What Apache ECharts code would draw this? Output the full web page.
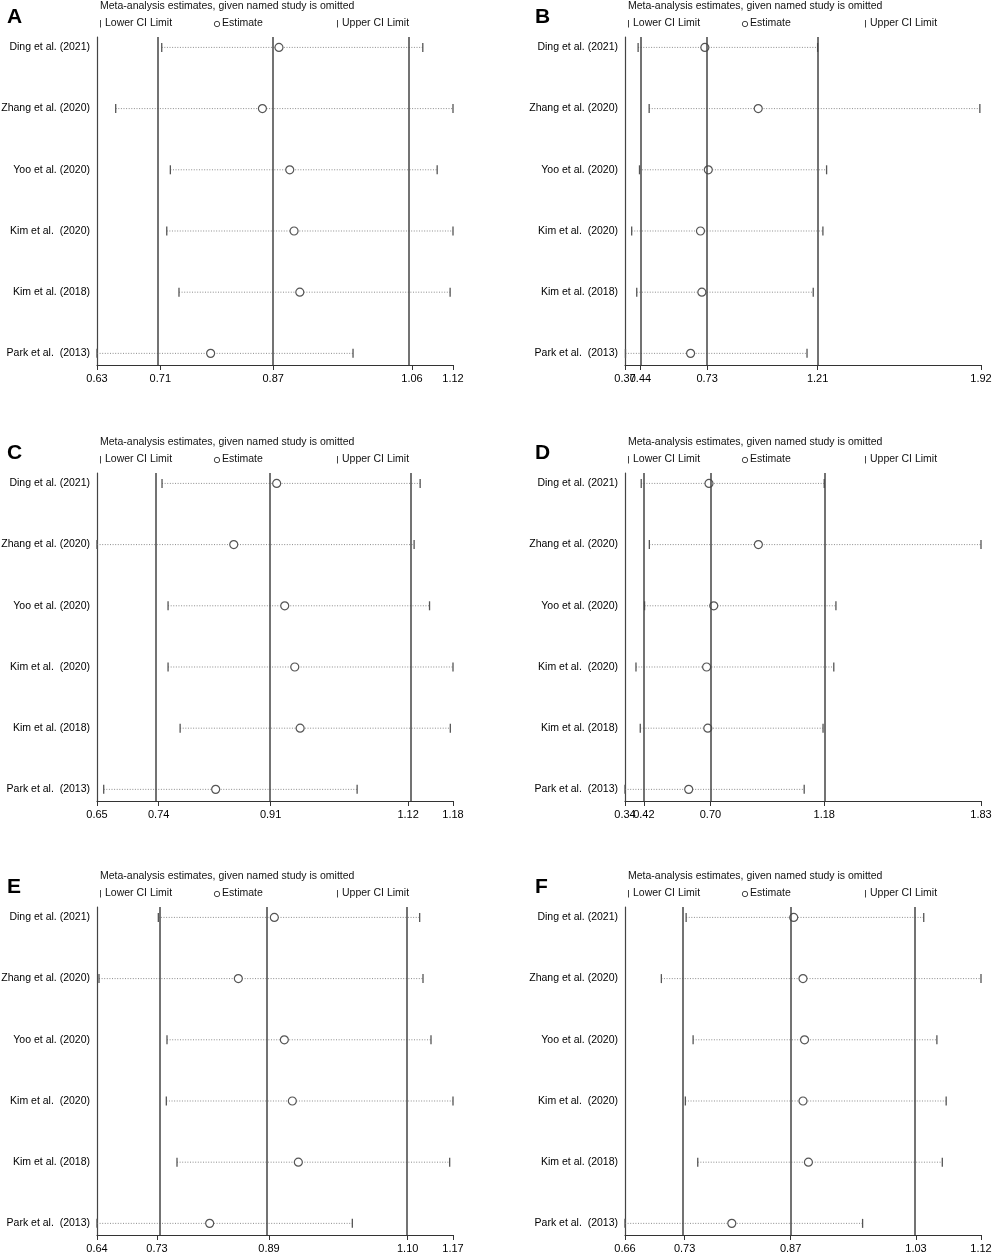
<!DOCTYPE html>
<html>
<head>
<meta charset="utf-8">
<script src="https://cdn.jsdelivr.net/npm/echarts@6/dist/echarts.min.js"></script>
<style>
  html, body { margin: 0; padding: 0; background: #fff; }
  #main { width: 996px; height: 1255px; }
</style>
</head>
<body>
<div id="main"></div>
<script>
// study names, top to bottom
var studies = ['Ding et al. (2021)', 'Zhang et al. (2020)', 'Yoo et al. (2020)', 'Kim et al.  (2020)', 'Kim et al. (2018)', 'Park et al.  (2013)'];

// panel A
var lowerA = [0.716, 0.652, 0.728, 0.723, 0.740, 0.626];
var estA   = [0.879, 0.856, 0.894, 0.900, 0.908, 0.784];
var upperA = [1.079, 1.121, 1.099, 1.121, 1.117, 0.982];
var ticksA = [0.626, 0.714, 0.871, 1.064, 1.121];
var labelsA = ['0.63', '0.71', '0.87', '1.06', '1.12'];

// panel B
var lowerB = [0.430, 0.478, 0.436, 0.402, 0.424, 0.375];
var estB   = [0.720, 0.952, 0.735, 0.701, 0.707, 0.658];
var upperB = [1.210, 1.915, 1.249, 1.233, 1.191, 1.164];
var ticksB = [0.373, 0.440, 0.730, 1.210, 1.920];
var labelsB = ['0.37', '0.44', '0.73', '1.21', '1.92'];

// panel C
var lowerC = [0.749, 0.652, 0.758, 0.758, 0.776, 0.662];
var estC   = [0.920, 0.856, 0.932, 0.947, 0.955, 0.829];
var upperC = [1.134, 1.125, 1.148, 1.183, 1.179, 1.040];
var ticksC = [0.652, 0.744, 0.911, 1.116, 1.183];
var labelsC = ['0.65', '0.74', '0.91', '1.12', '1.18'];

// panel D
var lowerD = [0.410, 0.444, 0.424, 0.388, 0.406, 0.342];
var estD   = [0.694, 0.901, 0.714, 0.684, 0.689, 0.609];
var upperD = [1.177, 1.834, 1.226, 1.217, 1.172, 1.093];
var ticksD = [0.342, 0.421, 0.700, 1.177, 1.834];
var labelsD = ['0.34', '0.42', '0.70', '1.18', '1.83'];

// panel E
var lowerE = [0.728, 0.639, 0.741, 0.740, 0.756, 0.636];
var estE   = [0.902, 0.848, 0.917, 0.929, 0.938, 0.805];
var upperE = [1.120, 1.125, 1.137, 1.170, 1.165, 1.019];
var ticksE = [0.636, 0.726, 0.894, 1.102, 1.170];
var labelsE = ['0.64', '0.73', '0.89', '1.10', '1.17'];

// panel F
var lowerF = [0.735, 0.703, 0.744, 0.734, 0.750, 0.656];
var estF   = [0.874, 0.886, 0.888, 0.886, 0.893, 0.794];
var upperF = [1.042, 1.116, 1.059, 1.071, 1.066, 0.963];
var ticksF = [0.656, 0.733, 0.870, 1.032, 1.116];
var labelsF = ['0.66', '0.73', '0.87', '1.03', '1.12'];

var panels = [
  { letter: 'A', lower: lowerA, est: estA, upper: upperA, ticks: ticksA, labels: labelsA },
  { letter: 'B', lower: lowerB, est: estB, upper: upperB, ticks: ticksB, labels: labelsB },
  { letter: 'C', lower: lowerC, est: estC, upper: upperC, ticks: ticksC, labels: labelsC },
  { letter: 'D', lower: lowerD, est: estD, upper: upperD, ticks: ticksD, labels: labelsD },
  { letter: 'E', lower: lowerE, est: estE, upper: upperE, ticks: ticksE, labels: labelsE },
  { letter: 'F', lower: lowerF, est: estF, upper: upperF, ticks: ticksF, labels: labelsF }
];

var FONT = "'Liberation Sans', Arial, sans-serif";
var FS = 10.5;
var colX = [0, 528];
var rowY = [0, 436, 870];

var chart = echarts.init(document.getElementById('main'));

var grids = [], xAxes = [], yAxes = [], series = [], graphics = [];

function renderCI(params, api) {
  var row = api.value(2);
  var p0 = api.coord([api.value(0), row]);
  var p1 = api.coord([api.value(1), row]);
  return {
    type: 'group',
    children: [
      { type: 'line', shape: { x1: p0[0], y1: p0[1], x2: p1[0], y2: p1[1] },
        style: { stroke: '#8c8c8c', lineWidth: 1, lineDash: [1, 1.6] } },
      { type: 'line', shape: { x1: p0[0], y1: p0[1] - 4.5, x2: p0[0], y2: p0[1] + 4.5 },
        style: { stroke: '#555', lineWidth: 1.3 } },
      { type: 'line', shape: { x1: p1[0], y1: p1[1] - 4.5, x2: p1[0], y2: p1[1] + 4.5 },
        style: { stroke: '#555', lineWidth: 1.3 } }
    ]
  };
}

function xLabelStyle(p, values) {
  return {
    customValues: values, hideOverlap: false, showMinLabel: true, showMaxLabel: true, margin: 8,
    color: '#000', fontSize: FS + 0.5, fontFamily: FONT,
    formatter: function (v) { return p.labels[p.ticks.indexOf(v)]; }
  };
}

panels.forEach(function (p, i) {
  var ox = colX[i % 2], oy = rowY[Math.floor(i / 2)];
  grids.push({ left: 97 + ox, top: 37 + oy, width: 356, height: 328, outerBoundsMode: 'none' });
  // main x axis: line, all ticks, labels except the 2nd (kept apart so close labels are not dropped)
  xAxes.push({
    type: 'value', gridIndex: i, position: 'bottom', min: p.ticks[0], max: p.ticks[4],
    splitLine: { show: false },
    axisLine: { onZero: false, lineStyle: { color: '#333', width: 1.2 } },
    axisTick: { customValues: p.ticks, length: 5, lineStyle: { color: '#333' } },
    axisLabel: xLabelStyle(p, [p.ticks[0], p.ticks[2], p.ticks[3], p.ticks[4]])
  });
  // overlay axis carrying the 2nd tick label only
  xAxes.push({
    type: 'value', gridIndex: i, position: 'bottom', min: p.ticks[0], max: p.ticks[4],
    splitLine: { show: false },
    axisLine: { show: false, onZero: false },
    axisTick: { show: false },
    axisLabel: xLabelStyle(p, [p.ticks[1]])
  });
  yAxes.push({
    type: 'value', gridIndex: i, inverse: true, min: -0.17, max: 5.19,
    splitLine: { show: false },
    axisLine: { show: true, onZero: false, lineStyle: { color: '#444', width: 1.2 } },
    axisTick: { show: false },
    axisLabel: {
      customValues: [0, 1, 2, 3, 4, 5], margin: 7, showMinLabel: true, showMaxLabel: true,
      color: '#000', fontSize: FS, fontFamily: FONT,
      formatter: function (v) { return studies[Math.round(v)]; }
    }
  });
  series.push({
    type: 'custom', xAxisIndex: 2 * i, yAxisIndex: i, clip: false,
    renderItem: renderCI, encode: { x: [0, 1], y: 2 },
    data: p.lower.map(function (lo, k) { return [lo, p.upper[k], k]; }),
    z: 2
  });
  series.push({
    type: 'scatter', xAxisIndex: 2 * i, yAxisIndex: i,
    symbol: 'circle', symbolSize: 8,
    itemStyle: { color: '#fff', borderColor: '#555', borderWidth: 1.2, opacity: 1 },
    data: p.est.map(function (e, k) { return [e, k]; }),
    z: 4,
    markLine: {
      silent: true, symbol: ['none', 'none'], label: { show: false },
      lineStyle: { color: '#444', width: 1.5, type: 'solid' },
      data: p.ticks.slice(1, 4).map(function (v) { return { xAxis: v }; })
    }
  });

  // panel letter, heading and legend row
  graphics.push({ type: 'text', left: 7 + ox, top: 7 + oy,
    style: { text: p.letter, font: "bold 21px 'Liberation Sans', Arial, sans-serif", fill: '#000' } });
  graphics.push({ type: 'text', x: 100 + ox, y: 6 + oy,
    style: { text: 'Meta-analysis estimates, given named study is omitted', font: FS + 'px ' + FONT, fill: '#111', textVerticalAlign: 'middle' } });
  graphics.push({ type: 'line', shape: { x1: 100.5 + ox, y1: 20 + oy, x2: 100.5 + ox, y2: 27.5 + oy }, style: { stroke: '#444', lineWidth: 1 } });
  graphics.push({ type: 'text', x: 105 + ox, y: 23.5 + oy,
    style: { text: 'Lower CI Limit', font: FS + 'px ' + FONT, fill: '#111', textVerticalAlign: 'middle' } });
  graphics.push({ type: 'circle', shape: { cx: 217 + ox, cy: 24 + oy, r: 2.7 }, style: { fill: '#fff', stroke: '#444', lineWidth: 1 } });
  graphics.push({ type: 'text', x: 222 + ox, y: 23.5 + oy,
    style: { text: 'Estimate', font: FS + 'px ' + FONT, fill: '#111', textVerticalAlign: 'middle' } });
  graphics.push({ type: 'line', shape: { x1: 337.5 + ox, y1: 20 + oy, x2: 337.5 + ox, y2: 27.5 + oy }, style: { stroke: '#444', lineWidth: 1 } });
  graphics.push({ type: 'text', x: 342 + ox, y: 23.5 + oy,
    style: { text: 'Upper CI Limit', font: FS + 'px ' + FONT, fill: '#111', textVerticalAlign: 'middle' } });
});

chart.setOption({
  backgroundColor: '#fff',
  animation: false,
  grid: grids,
  xAxis: xAxes,
  yAxis: yAxes,
  series: series,
  graphic: graphics
});
</script>
</body>
</html>
